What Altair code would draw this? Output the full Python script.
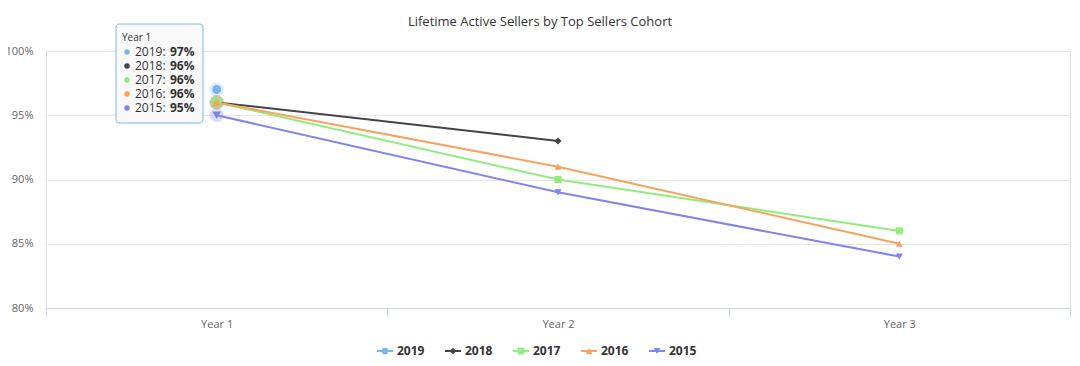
import altair as alt
import pandas as pd

# ---- data ----
years = ["Year 1", "Year 2", "Year 3"]
cohorts = ["2019", "2018", "2017", "2016", "2015"]
colors = ["#7cb5ec", "#434348", "#90ed7d", "#f7a35c", "#8085e9"]
v2019 = [97]
v2018 = [96, 93]
v2017 = [96, 90, 86]
v2016 = [96, 91, 85]
v2015 = [95, 89, 84]
y_ticks = [80, 85, 90, 95, 100]
title_text = "Lifetime Active Sellers by Top Sellers Cohort"
tooltip_year = "Year 1"

series = {"2019": v2019, "2018": v2018, "2017": v2017, "2016": v2016, "2015": v2015}
rows = []
for c in cohorts:
    for i, v in enumerate(series[c]):
        rows.append({"Cohort": c, "Year": years[i], "Value": v})
df = pd.DataFrame(rows)

tip = pd.DataFrame({
    "Cohort": cohorts,
    "Row": list(range(len(cohorts))),
    "Label": [c + ":" for c in cohorts],
    "Val": [str(series[c][0]) + "%" for c in cohorts],
})
leg = pd.DataFrame({"Cohort": cohorts})

FONT = "Open Sans"
point_shapes = ["circle", "diamond", "square", "triangle-up", "triangle-down"]
color_scale = alt.Scale(domain=cohorts, range=colors)
shape_scale = alt.Scale(domain=cohorts, range=point_shapes)

x_enc = alt.X(
    "Year:N",
    sort=years,
    scale=alt.Scale(type="band", domain=years, paddingInner=0, paddingOuter=0),
    axis=alt.Axis(
        title=None, tickBand="extent", tickSize=9, tickColor="#ccd6eb",
        domainColor="#ccd6eb", labelColor="#666666", labelFont=FONT,
        labelFontSize=11, labelPadding=1, grid=False, labelAngle=0,
    ),
)
y_enc = alt.Y(
    "Value:Q",
    scale=alt.Scale(domain=[80, 100], nice=False, zero=False),
    axis=alt.Axis(
        title=None, values=y_ticks, labelExpr="datum.value + '%'",
        domain=False, ticks=False, tickSize=0, gridColor="#e6e6e6",
        labelColor="#666666", labelFont=FONT, labelFontSize=11, labelPadding=13,
    ),
)
color_enc = alt.Color("Cohort:N", scale=color_scale, legend=None)

base = alt.Chart(df)

halos = base.transform_filter(
    alt.datum.Year == tooltip_year
).mark_point(filled=True, size=200, opacity=0.28).encode(
    x=x_enc, y=y_enc, color=color_enc
)

lines = base.mark_line(strokeWidth=2).encode(
    x=x_enc, y=y_enc, color=color_enc, detail="Cohort:N"
)

points = base.mark_point(filled=True, opacity=1).encode(
    x=x_enc, y=y_enc, color=color_enc,
    shape=alt.Shape("Cohort:N", scale=shape_scale, legend=None),
    size=alt.condition(alt.datum.Year == tooltip_year, alt.value(80), alt.value(50)),
)

title_mark = alt.Chart(pd.DataFrame({"T": [title_text]})).mark_text(
    align="center", baseline="middle", font=FONT, fontSize=13, color="#333333"
).encode(x=alt.value(494), y=alt.value(-29), text="T:N")

main = alt.layer(halos, lines, points, title_mark)

# ---- tooltip overlay ----
hdr = pd.DataFrame({"Label": [tooltip_year]})
tip_box = alt.Chart(hdr).mark_rect(
    fill="#f9f9f9", fillOpacity=0.95, stroke="#7cb5ec", strokeWidth=1, cornerRadius=3
).encode(x=alt.value(70), x2=alt.value(157), y=alt.value(-27), y2=alt.value(72))
tip_hdr = alt.Chart(hdr).mark_text(
    align="left", baseline="middle", font=FONT, fontSize=10, color="#333333"
).encode(x=alt.value(76), y=alt.value(-13), text="Label:N")

row_y = alt.Y("Row:O", scale=alt.Scale(type="point", domain=list(range(len(cohorts))),
                                        range=[1, 57], padding=0), axis=None)
tip_base = alt.Chart(tip)
tip_dots = tip_base.mark_point(filled=True, opacity=1, size=30, shape="circle").encode(
    x=alt.value(81), y=row_y, color=color_enc,
)
tip_lbl = tip_base.mark_text(
    align="left", baseline="middle", font=FONT, fontSize=12, color="#333333"
).encode(x=alt.value(89), y=row_y, text="Label:N")
tip_val = tip_base.mark_text(
    align="left", baseline="middle", font=FONT, fontSize=12, fontWeight="bold", color="#333333"
).encode(x=alt.value(124), y=row_y, text="Val:N")

tooltip = alt.layer(tip_box, tip_hdr, tip_dots, tip_lbl, tip_val)

# ---- legend (line + marker symbols) ----
leg_x = alt.X("Cohort:N", sort=cohorts,
              scale=alt.Scale(type="point", domain=cohorts, range=[339, 611], padding=0),
              axis=None)
leg_base = alt.Chart(leg)
leg_lines = leg_base.mark_point(shape="M-1,0L1,0", size=256, filled=False,
                                strokeWidth=2, opacity=1).encode(
    x=leg_x, y=alt.value(300), color=color_enc)
leg_marks = leg_base.mark_point(filled=True, opacity=1, size=45).encode(
    x=leg_x, y=alt.value(300), color=color_enc,
    shape=alt.Shape("Cohort:N", scale=shape_scale, legend=None))
leg_text = leg_base.mark_text(
    align="left", baseline="middle", dx=12, font=FONT, fontSize=12,
    fontWeight="bold", color="#333333"
).encode(x=leg_x, y=alt.value(300), text="Cohort:N")
legend = alt.layer(leg_lines, leg_marks, leg_text)

chart = alt.layer(main, tooltip, legend).resolve_scale(
    x="independent", y="independent"
).properties(
    width=1024, height=257,
    padding={"left": 38, "top": 43, "right": 2, "bottom": 50},
    autosize=alt.AutoSizeParams(type="none"),
).configure_view(stroke=None).configure(background="white")

chart.save("out.html", embed_options={"renderer": "svg", "actions": False})
